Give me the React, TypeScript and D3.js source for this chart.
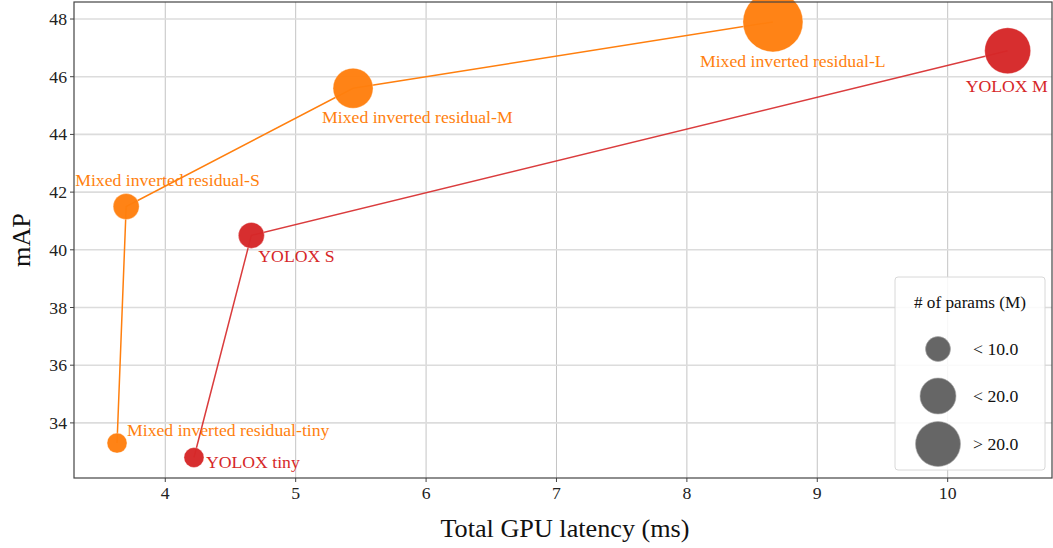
import React from "react";
import * as d3 from "d3";

const mirNames = ["Mixed inverted residual-tiny", "Mixed inverted residual-S", "Mixed inverted residual-M", "Mixed inverted residual-L"];
const mirLatency = [3.63, 3.70, 5.44, 8.66];
const mirMap = [33.3, 41.5, 45.6, 47.9];
const mirParams = [5.0, 9.0, 17.0, 30.0];

const yoloNames = ["YOLOX tiny", "YOLOX S", "YOLOX M"];
const yoloLatency = [4.22, 4.66, 10.46];
const yoloMap = [32.8, 40.5, 46.9];
const yoloParams = [5.1, 9.0, 25.3];

const xTicks = [4, 5, 6, 7, 8, 9, 10];
const yTicks = [34, 36, 38, 40, 42, 44, 46, 48];
const legendLabels = ["< 10.0", "< 20.0", "> 20.0"];

// label offsets (px) — styling only
const mirLabelOffsets = [[10, -7], [-51, -21], [-31, 35], [-73, 45]];
const yoloLabelOffsets = [[12, 10], [7, 27], [-42, 41]];

const W = 1053, H = 548;
const M = { left: 74, right: 1052, top: 2, bottom: 478 };
const FONT = "'Liberation Serif', 'Times New Roman', serif";
const ORANGE = "#ff7f0e";
const RED = "#d62728";

export default function App() {
  const x = d3.scaleLinear().domain([3.30, 10.80]).range([M.left, M.right]);
  const y = d3.scaleLinear().domain([32.09, 48.59]).range([M.bottom, M.top]);
  const line = d3.line<[number, number]>().x(d => x(d[0])).y(d => y(d[1]));

  const mirPts = mirLatency.map((v, i) => [v, mirMap[i]] as [number, number]);
  const yoloPts = yoloLatency.map((v, i) => [v, yoloMap[i]] as [number, number]);

  const rFor = (p: number) => (p < 6 ? 10 : p < 10 ? 13 : p < 20 ? 20 : p < 27 ? 23 : 30);
  const legendR = [12.5, 18, 22.5];

  return (
    <svg width={W} height={H} style={{ display: "block", position: "absolute", left: 0, top: 0 }} fontFamily={FONT}>
      <rect width={W} height={H} fill="#fff" />
      {/* grid */}
      {xTicks.map(t => (
        <line key={"gx" + t} x1={x(t)} x2={x(t)} y1={M.top} y2={M.bottom} stroke="#c4c4c4" strokeWidth={1} />
      ))}
      {yTicks.map(t => (
        <line key={"gy" + t} x1={M.left} x2={M.right} y1={y(t)} y2={y(t)} stroke="#dcdcdc" strokeWidth={1.6} />
      ))}
      {/* lines */}
      <path d={line(mirPts) || ""} fill="none" stroke={ORANGE} strokeWidth={1.5} />
      <path d={line(yoloPts) || ""} fill="none" stroke={RED} strokeOpacity={0.9} strokeWidth={1.5} />
      {/* points */}
      {mirPts.map((p, i) => (
        <circle key={"mp" + i} cx={x(p[0])} cy={y(p[1])} r={rFor(mirParams[i])} fill={ORANGE} fillOpacity={0.97} stroke="#fff" strokeOpacity={0.4} strokeWidth={0.8} />
      ))}
      {yoloPts.map((p, i) => (
        <circle key={"yp" + i} cx={x(p[0])} cy={y(p[1])} r={rFor(yoloParams[i])} fill={RED} fillOpacity={0.97} stroke="#fff" strokeOpacity={0.4} strokeWidth={0.8} />
      ))}
      {/* labels */}
      {mirPts.map((p, i) => (
        <text key={"ml" + i} x={x(p[0]) + mirLabelOffsets[i][0]} y={y(p[1]) + mirLabelOffsets[i][1]} fill={ORANGE} fontSize={17.7}>{mirNames[i]}</text>
      ))}
      {yoloPts.map((p, i) => (
        <text key={"yl" + i} x={x(p[0]) + yoloLabelOffsets[i][0]} y={y(p[1]) + yoloLabelOffsets[i][1]} fill={RED} fontSize={17.7}>{yoloNames[i]}</text>
      ))}
      {/* frame */}
      <rect x={M.left} y={M.top} width={M.right - M.left} height={M.bottom - M.top} fill="none" stroke="#444" strokeWidth={1.2} />
      {/* ticks */}
      {xTicks.map(t => (
        <g key={"tx" + t}>
          <line x1={x(t)} x2={x(t)} y1={M.bottom} y2={M.bottom + 4} stroke="#444" />
          <text x={x(t)} y={M.bottom + 21} textAnchor="middle" fontSize={17.7} fill="#222">{t}</text>
        </g>
      ))}
      {yTicks.map(t => (
        <g key={"ty" + t}>
          <line x1={M.left - 4} x2={M.left} y1={y(t)} y2={y(t)} stroke="#444" />
          <text x={M.left - 7} y={y(t) + 6} textAnchor="end" fontSize={17.7} fill="#222">{t}</text>
        </g>
      ))}
      {/* axis labels */}
      <text x={(M.left + M.right) / 2 + 2} y={537} textAnchor="middle" fontSize={26.2} fill="#111">Total GPU latency (ms)</text>
      <text transform={`translate(30, ${(M.top + M.bottom) / 2}) rotate(-90)`} textAnchor="middle" fontSize={26.2} fill="#111">mAP</text>
      {/* legend */}
      <g>
        <rect x={895} y={277} width={150} height={193} rx={3} fill="#fff" fillOpacity={0.85} stroke="#d8d8d8" />
        <text x={970} y={308} textAnchor="middle" fontSize={17.2} fill="#111"># of params (M)</text>
        {legendLabels.map((lab, i) => {
          const cy = [349, 396, 444][i];
          return (
            <g key={"lg" + i}>
              <circle cx={938} cy={cy} r={legendR[i]} fill="#555" fillOpacity={0.9} stroke="#aaa" strokeWidth={0.6} />
              <text x={973} y={cy + 6} fontSize={17.7} fill="#111">{lab}</text>
            </g>
          );
        })}
      </g>
    </svg>
  );
}
